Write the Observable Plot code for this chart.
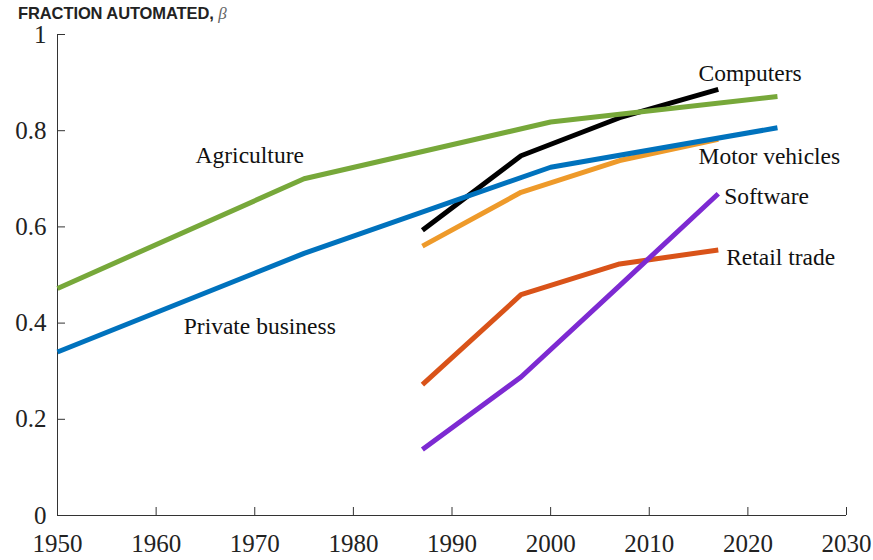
<!DOCTYPE html>
<html>
<head>
<meta charset="utf-8">
<script src="https://cdn.jsdelivr.net/npm/d3@7"></script>
<script src="https://cdn.jsdelivr.net/npm/@observablehq/plot@0.6"></script>
<style>
  html, body { margin: 0; padding: 0; background: #fff; }
  #wrap { position: relative; width: 873px; height: 560px; }
  #title { position: absolute; left: 18px; top: 4px; font: bold 16.5px "Liberation Sans", Arial, sans-serif; color: #222; line-height: 16.5px; white-space: nowrap; letter-spacing: -0.1px; }
  #title i { font: italic 17px "Liberation Serif", serif; color: #666; letter-spacing: 0; }
  #chart { position: absolute; left: 0; top: 0; }
</style>
</head>
<body>
<div id="wrap">
  <div id="chart"></div>
  <div id="title">FRACTION AUTOMATED, <i>β</i></div>
</div>
<script>
// Aggregate series (x = year)
const aggYears = [1950, 1975, 2000, 2023];
const agriculture = [0.472, 0.700, 0.818, 0.871];
const privateBusiness = [0.340, 0.545, 0.724, 0.806];

// Industry series
const indYears = [1987, 1997, 2007, 2017];
const computers = [0.593, 0.748, 0.827, 0.886];
const motorVehicles = [0.560, 0.672, 0.738, 0.782];
const retailTrade = [0.272, 0.459, 0.523, 0.552];
const software = [0.137, 0.288, 0.478, 0.669];

// Ticks
const xTicks = [1950, 1960, 1970, 1980, 1990, 2000, 2010, 2020, 2030];
const yTicks = [0, 0.2, 0.4, 0.6, 0.8, 1];

// Series names, drawing order and colours
const seriesNames = ["Computers", "Motor vehicles", "Retail trade", "Software", "Agriculture", "Private business"];
const seriesColors = ["#000000", "#EE9A2A", "#D95319", "#7D2AD2", "#77A83A", "#0072BD"];

// Label anchor points (year, fraction)
const labelNames = ["Computers", "Agriculture", "Motor vehicles", "Software", "Retail trade", "Private business"];
const labelX = [2015.0, 1964.0, 2015.0, 2017.6, 2017.8, 1962.8];
const labelY = [0.920, 0.749, 0.747, 0.664, 0.537, 0.393];

const seriesData = {
  "Computers": [indYears, computers],
  "Motor vehicles": [indYears, motorVehicles],
  "Retail trade": [indYears, retailTrade],
  "Software": [indYears, software],
  "Agriculture": [aggYears, agriculture],
  "Private business": [aggYears, privateBusiness]
};

const rows = [];
for (const name of seriesNames) {
  const [xs, ys] = seriesData[name];
  xs.forEach((x, i) => rows.push({series: name, year: x, value: ys[i]}));
}
const labels = labelNames.map((n, i) => ({name: n, x: labelX[i], y: labelY[i]}));

const lineMarks = seriesNames.map((name, i) =>
  Plot.line(rows.filter(d => d.series === name), {
    x: "year", y: "value",
    stroke: seriesColors[i], strokeWidth: 5,
    strokeLinecap: "butt", strokeLinejoin: "miter"
  })
);

const chart = Plot.plot({
  width: 873,
  height: 560,
  marginLeft: 57,
  marginRight: 27,
  marginTop: 34,
  marginBottom: 45,
  style: {fontFamily: "'Liberation Serif', 'Times New Roman', serif", fontSize: "25px", color: "#222", background: "#fff"},
  x: {domain: [1950, 2030]},
  y: {domain: [0, 1]},
  marks: [
    Plot.axisX({ticks: xTicks, tickSize: -8, tickPadding: 27, tickFormat: d3.format("d"), fontSize: 25, stroke: "#333", label: null}),
    Plot.axisY({ticks: yTicks, tickSize: -8, tickPadding: 19, tickFormat: d3.format("~g"), fontSize: 25, stroke: "#333", label: null}),
    Plot.ruleX([1950], {y1: 0, y2: 1, stroke: "#333"}),
    Plot.ruleY([0], {x1: 1950, x2: 2030, stroke: "#333"}),
    ...lineMarks,
    Plot.text(labels, {x: "x", y: "y", text: "name", textAnchor: "start", fontSize: 23.5, fill: "#111"})
  ]
});
document.getElementById("chart").appendChild(chart);
</script>
</body>
</html>
